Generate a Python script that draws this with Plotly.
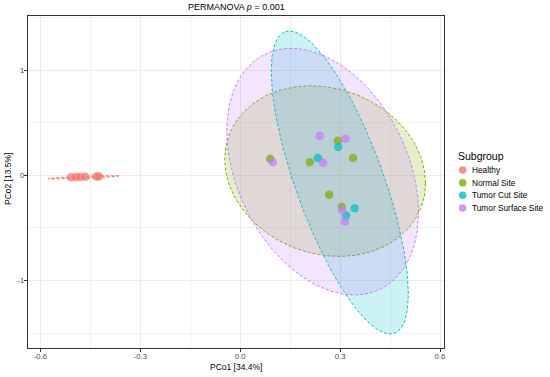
import numpy as np
import plotly.graph_objects as go

# ---------------- data ----------------
groups = ["Healthy", "Normal Site", "Tumor Cut Site", "Tumor Surface Site"]
colors = ["#F8766D", "#7CAE00", "#00BFC4", "#C77CFF"]

healthy_x = [-0.508, -0.493, -0.480, -0.465, -0.432, -0.424]
healthy_y = [-0.018, -0.016, -0.015, -0.014, -0.012, -0.012]

normal_x = [0.293, 0.090, 0.209, 0.339, 0.267, 0.305]
normal_y = [0.329, 0.158, 0.123, 0.164, -0.184, -0.298]

cut_x = [0.294, 0.233, 0.344, 0.318]
cut_y = [0.269, 0.164, -0.313, -0.384]

surface_x = [0.239, 0.316, 0.249, 0.098, 0.306, 0.314]
surface_y = [0.376, 0.348, 0.120, 0.123, -0.330, -0.441]

# 95% ellipse parameters per group: centre, x/y half-extent, correlation
ell_cx = [-0.471, 0.255, 0.299, 0.2475]
ell_cy = [-0.019, 0.040, -0.068, 0.035]
ell_sx = [0.1065, 0.3015, 0.2058, 0.288]
ell_sy = [0.0155, 0.810, 1.4387, 1.171]
ell_r = [0.80, -0.14, -0.735, -0.330]

x_ticks = [-0.6, -0.3, 0.0, 0.3, 0.6]
x_ticklabels = ["-0.6", "-0.3", "0.0", "0.3", "0.6"]
y_ticks = [-1, 0, 1]
y_ticklabels = ["-1", "0", "1"]
x_minor = [-0.45, -0.15, 0.15, 0.45]
y_minor = [-1.5, -0.5, 0.5, 1.5]

title_text = "PERMANOVA <i>p</i> = 0.001"
x_title = "PCo1 [34.4%]"
y_title = "PCo2 [13.5%]"
legend_title = "Subgroup"

xs = [healthy_x, normal_x, cut_x, surface_x]
ys = [healthy_y, normal_y, cut_y, surface_y]

# ---------------- figure ----------------
W, H = 550, 377
ML, MR, MT, MB = 28, 106, 16, 29
PW, PH = W - ML - MR, H - MT - MB

def rgba(hexc, a):
    h = hexc.lstrip("#")
    r, g, b = int(h[0:2], 16), int(h[2:4], 16), int(h[4:6], 16)
    return f"rgba({r},{g},{b},{a})"

fig = go.Figure()
t = np.linspace(0, 2 * np.pi, 240)
for i, g in enumerate(groups):
    sx, sy, r = ell_sx[i], ell_sy[i], ell_r[i]
    cov = np.array([[sx * sx, r * sx * sy], [r * sx * sy, sy * sy]])
    L = np.linalg.cholesky(cov)
    pts = L @ np.vstack([np.cos(t), np.sin(t)])
    fig.add_trace(go.Scatter(
        x=ell_cx[i] + pts[0], y=ell_cy[i] + pts[1], mode="lines",
        fill="toself", fillcolor=rgba(colors[i], 0.2),
        line=dict(color=colors[i], width=1, dash="3px,2px"),
        hoverinfo="skip", showlegend=False))

for i, g in enumerate(groups):
    fig.add_trace(go.Scatter(
        x=xs[i], y=ys[i], mode="markers", name=g,
        marker=dict(color=colors[i], size=8.5, opacity=0.72, line=dict(width=0)),
        showlegend=False))

def px2paper_x(px):
    return (px - ML) / PW

def px2paper_y(py):
    return (H - MB - py) / PH

ann = []
ann.append(dict(text=title_text, x=0.5, y=px2paper_y(7), xref="paper", yref="paper",
                showarrow=False, font=dict(size=9, color="black"), xanchor="center", yanchor="middle"))
ann.append(dict(text=x_title, x=0.5, y=px2paper_y(367), xref="paper", yref="paper",
                showarrow=False, font=dict(size=8.5, color="black"), xanchor="center", yanchor="middle"))
ann.append(dict(text=y_title, x=px2paper_x(8), y=px2paper_y(179), xref="paper", yref="paper",
                showarrow=False, textangle=-90, font=dict(size=8.5, color="black"),
                xanchor="center", yanchor="middle"))
ann.append(dict(text=legend_title, x=px2paper_x(456), y=px2paper_y(155.5), xref="paper", yref="paper",
                showarrow=False, font=dict(size=10.5, color="black"), xanchor="left", yanchor="middle"))

shapes = []
leg_y = [170, 182.7, 195.3, 208]
for i, g in enumerate(groups):
    ann.append(dict(text=g, x=px2paper_x(470), y=px2paper_y(leg_y[i]), xref="paper", yref="paper",
                    showarrow=False, font=dict(size=8.3, color="black"), xanchor="left", yanchor="middle"))
    shapes.append(dict(type="circle", xref="paper", yref="paper", xsizemode="pixel", ysizemode="pixel",
                       xanchor=px2paper_x(462.7), yanchor=px2paper_y(leg_y[i]),
                       x0=-3.8, x1=3.8, y0=-3.8, y1=3.8,
                       fillcolor=rgba(colors[i], 0.8), line=dict(width=0)))

axis_common = dict(showline=True, mirror=True, linecolor="#333333", linewidth=1.2,
                   ticks="outside", ticklen=3, tickcolor="#333333", tickwidth=1,
                   showgrid=True, gridcolor="#EBEBEB", gridwidth=1, zeroline=False,
                   automargin=False, ticklabelstandoff=-2,
                   tickfont=dict(size=7.8, color="#4D4D4D"))

fig.update_layout(
    width=W, height=H,
    margin=dict(l=ML, r=MR, t=MT, b=MB, pad=0),
    paper_bgcolor="white", plot_bgcolor="white",
    font=dict(family="Liberation Sans, Arial, sans-serif"),
    showlegend=False,
    annotations=ann, shapes=shapes,
    xaxis=dict(range=[-0.6375, 0.612], tickvals=x_ticks, ticktext=x_ticklabels,
               minor=dict(tickvals=x_minor, showgrid=True, gridcolor="#F2F2F2", gridwidth=0.6, ticks=""),
               **axis_common),
    yaxis=dict(range=[-1.640, 1.513], tickvals=y_ticks, ticktext=y_ticklabels,
               minor=dict(tickvals=y_minor, showgrid=True, gridcolor="#F2F2F2", gridwidth=0.6, ticks=""),
               **axis_common),
)

fig.write_html("out.html", config={"displayModeBar": False},
               post_script="document.body.style.margin='0';document.body.style.overflow='hidden';")
